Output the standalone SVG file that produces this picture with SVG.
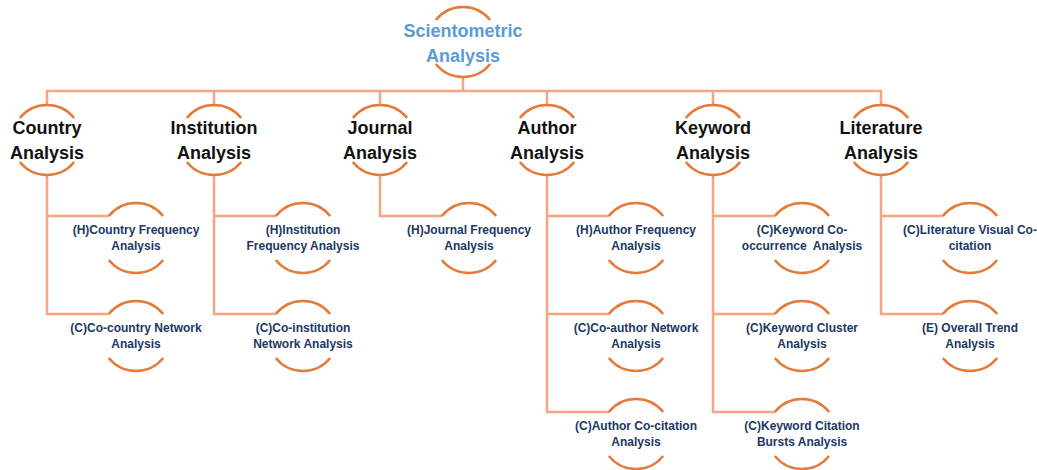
<svg xmlns="http://www.w3.org/2000/svg" xmlns:xlink="http://www.w3.org/1999/xlink" width="1037" height="470" viewBox="0 0 1037 470">
<style>
.arc{fill:none;stroke:#E47B3A;stroke-width:2.5}
.con{fill:none;stroke:#F5A582;stroke-width:2.5}
.t0{font-family:"Liberation Sans",Arial,sans-serif;font-weight:bold;font-size:18px;fill:#5B9BD5;text-anchor:middle}
.t1{font-family:"Liberation Sans",Arial,sans-serif;font-weight:bold;font-size:18px;fill:#111111;text-anchor:middle}
.t2{font-family:"Liberation Sans",Arial,sans-serif;font-weight:bold;font-size:12px;fill:#203864;text-anchor:middle}
</style>
<defs>
<g id="ring">
<path class="arc" d="M-27.2 -22 A35 35 0 0 1 27.2 -22"/>
<path class="arc" d="M-27.2 22 A35 35 0 0 0 27.2 22"/>
</g>
</defs>
<g id="connectors" class="con">
<path d="M463 76 V91"/>
<path d="M47 105 V91 H881 V105"/>
<path d="M214 91 V105 M380 91 V105 M547 91 V105 M713 91 V105"/>
<path d="M47 175 V314 H109 M47 216 H109"/>
<path d="M214 175 V314 H276 M214 216 H276"/>
<path d="M380 175 V216 H442"/>
<path d="M547 175 V412 H609 M547 216 H609 M547 314 H609"/>
<path d="M713 175 V412 H775 M713 216 H775 M713 314 H775"/>
<path d="M881 175 V314 H943 M881 216 H943"/>
</g>
<g id="node-root" transform="translate(463,42)"><use xlink:href="#ring" href="#ring"/><text class="t0" y="-5">Scientometric</text><text class="t0" y="20">Analysis</text></g>
<g id="node-country" transform="translate(47,140)"><use xlink:href="#ring" href="#ring"/><text class="t1" y="-6">Country</text><text class="t1" y="19">Analysis</text></g>
<g id="node-institution" transform="translate(214,140)"><use xlink:href="#ring" href="#ring"/><text class="t1" y="-6">Institution</text><text class="t1" y="19">Analysis</text></g>
<g id="node-journal" transform="translate(380,140)"><use xlink:href="#ring" href="#ring"/><text class="t1" y="-6">Journal</text><text class="t1" y="19">Analysis</text></g>
<g id="node-author" transform="translate(547,140)"><use xlink:href="#ring" href="#ring"/><text class="t1" y="-6">Author</text><text class="t1" y="19">Analysis</text></g>
<g id="node-keyword" transform="translate(713,140)"><use xlink:href="#ring" href="#ring"/><text class="t1" y="-6">Keyword</text><text class="t1" y="19">Analysis</text></g>
<g id="node-literature" transform="translate(881,140)"><use xlink:href="#ring" href="#ring"/><text class="t1" y="-6">Literature</text><text class="t1" y="19">Analysis</text></g>

<g id="node-country-freq" transform="translate(136,238)"><use xlink:href="#ring" href="#ring"/><text class="t2" y="-4">(H)Country Frequency</text><text class="t2" y="12">Analysis</text></g>
<g id="node-country-net" transform="translate(136,336)"><use xlink:href="#ring" href="#ring"/><text class="t2" y="-4">(C)Co-country Network</text><text class="t2" y="12">Analysis</text></g>
<g id="node-inst-freq" transform="translate(303,238)"><use xlink:href="#ring" href="#ring"/><text class="t2" y="-4">(H)Institution</text><text class="t2" y="12">Frequency Analysis</text></g>
<g id="node-inst-net" transform="translate(303,336)"><use xlink:href="#ring" href="#ring"/><text class="t2" y="-4">(C)Co-institution</text><text class="t2" y="12">Network Analysis</text></g>
<g id="node-journal-freq" transform="translate(469,238)"><use xlink:href="#ring" href="#ring"/><text class="t2" y="-4">(H)Journal Frequency</text><text class="t2" y="12">Analysis</text></g>
<g id="node-author-freq" transform="translate(636,238)"><use xlink:href="#ring" href="#ring"/><text class="t2" y="-4">(H)Author Frequency</text><text class="t2" y="12">Analysis</text></g>
<g id="node-author-net" transform="translate(636,336)"><use xlink:href="#ring" href="#ring"/><text class="t2" y="-4">(C)Co-author Network</text><text class="t2" y="12">Analysis</text></g>
<g id="node-author-cocit" transform="translate(636,434)"><use xlink:href="#ring" href="#ring"/><text class="t2" y="-4">(C)Author Co-citation</text><text class="t2" y="12">Analysis</text></g>
<g id="node-keyword-cooc" transform="translate(802,238)"><use xlink:href="#ring" href="#ring"/><text class="t2" y="-4">(C)Keyword Co-</text><text class="t2" y="12" xml:space="preserve" style="white-space:pre">occurrence  Analysis</text></g>
<g id="node-keyword-cluster" transform="translate(802,336)"><use xlink:href="#ring" href="#ring"/><text class="t2" y="-4">(C)Keyword Cluster</text><text class="t2" y="12">Analysis</text></g>
<g id="node-keyword-burst" transform="translate(802,434)"><use xlink:href="#ring" href="#ring"/><text class="t2" y="-4">(C)Keyword Citation</text><text class="t2" y="12">Bursts Analysis</text></g>
<g id="node-lit-cocit" transform="translate(970,238)"><use xlink:href="#ring" href="#ring"/><text class="t2" y="-4">(C)Literature Visual Co-</text><text class="t2" y="12">citation</text></g>
<g id="node-lit-trend" transform="translate(970,336)"><use xlink:href="#ring" href="#ring"/><text class="t2" y="-4">(E) Overall Trend</text><text class="t2" y="12">Analysis</text></g>
</svg>
